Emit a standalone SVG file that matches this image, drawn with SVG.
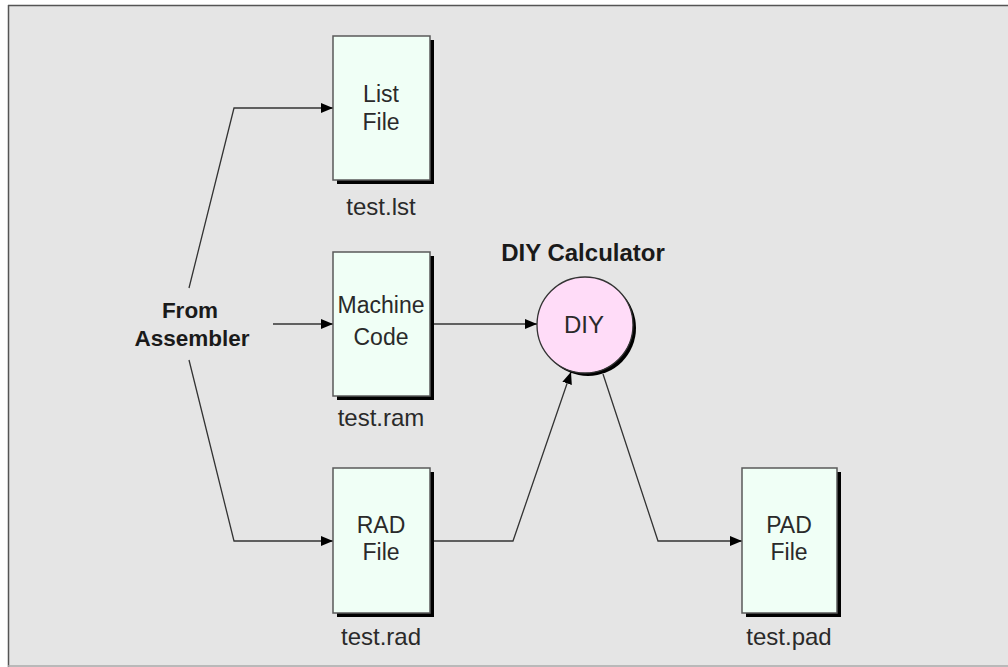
<svg xmlns="http://www.w3.org/2000/svg" width="1008" height="667" viewBox="0 0 1008 667">
  <style>
    .box { fill: #f0fff6; stroke: #5a5a5a; stroke-width: 1.5; }
    .shadow { fill: #000; }
    .lbl { font-family: "Liberation Sans", Arial, sans-serif; font-size: 23px; fill: #2a2a2a; text-anchor: middle; }
    .file { font-size: 24px; }
    .head { font-family: "Liberation Sans", Arial, sans-serif; font-size: 22.5px; font-weight: bold; fill: #1a1a1a; text-anchor: middle; }
    .wire { fill: none; stroke: #333; stroke-width: 1.3; }
  </style>
  <defs>
    <marker id="arrow" viewBox="0 0 12 10" refX="12" refY="5" markerWidth="12" markerHeight="10" markerUnits="userSpaceOnUse" orient="auto">
      <path d="M0,0 L12,5 L0,10 Z" fill="#000"/>
    </marker>
  </defs>

  <!-- page background and frame -->
  <rect x="0" y="0" width="1008" height="667" fill="#ffffff"/>
  <rect x="8" y="5" width="1000" height="662" fill="#e5e5e5"/>
  <line x1="8" y1="5.5" x2="1008" y2="5.5" stroke="#555" stroke-width="1.5"/>
  <line x1="8.5" y1="5" x2="8.5" y2="667" stroke="#555" stroke-width="1.5"/>
  <line x1="8" y1="666" x2="1008" y2="666" stroke="#aaa" stroke-width="1.5"/>

  <!-- connectors -->
  <g id="connectors">
    <path class="wire" d="M189,288 L234,108 L333,108" marker-end="url(#arrow)"/>
    <path class="wire" d="M273,324 L333,324" marker-end="url(#arrow)"/>
    <path class="wire" d="M189,360 L234,541 L333,541" marker-end="url(#arrow)"/>
    <path class="wire" d="M432,324 L537,324" marker-end="url(#arrow)"/>
    <path class="wire" d="M432,541 L513,541 L571,372" marker-end="url(#arrow)"/>
    <path class="wire" d="M603,374 L658,541 L742,541" marker-end="url(#arrow)"/>
  </g>

  <g id="from-assembler">
    <text class="head" x="190" y="318">From</text>
    <text class="head" x="192" y="346">Assembler</text>
  </g>

  <g id="list-file">
    <rect class="shadow" x="337" y="40" width="97" height="144"/>
    <rect class="box" x="333" y="36" width="97" height="144"/>
    <text class="lbl" x="381" y="102">List</text>
    <text class="lbl" x="381" y="130">File</text>
    <text class="lbl file" x="381" y="215">test.lst</text>
  </g>

  <g id="machine-code">
    <rect class="shadow" x="337" y="256" width="97" height="144"/>
    <rect class="box" x="333" y="252" width="97" height="144"/>
    <text class="lbl" x="381" y="313">Machine</text>
    <text class="lbl" x="381" y="345">Code</text>
    <text class="lbl file" x="381" y="426">test.ram</text>
  </g>

  <g id="rad-file">
    <rect class="shadow" x="337" y="472" width="97" height="145"/>
    <rect class="box" x="333" y="468" width="97" height="145"/>
    <text class="lbl" x="381" y="533">RAD</text>
    <text class="lbl" x="381" y="560">File</text>
    <text class="lbl file" x="381" y="645">test.rad</text>
  </g>

  <g id="pad-file">
    <rect class="shadow" x="746" y="472" width="95" height="145"/>
    <rect class="box" x="742" y="468" width="95" height="145"/>
    <text class="lbl" x="789" y="533">PAD</text>
    <text class="lbl" x="789" y="560">File</text>
    <text class="lbl file" x="789" y="645">test.pad</text>
  </g>

  <g id="diy-calculator">
    <text class="head" x="583" y="261" style="font-size:24px">DIY Calculator</text>
    <circle cx="588" cy="328" r="48" fill="#000"/>
    <circle cx="585" cy="325" r="48" fill="#ffdcf8" stroke="#333" stroke-width="1.3"/>
    <text class="lbl" x="584" y="333" style="font-size:24px">DIY</text>
  </g>
</svg>
